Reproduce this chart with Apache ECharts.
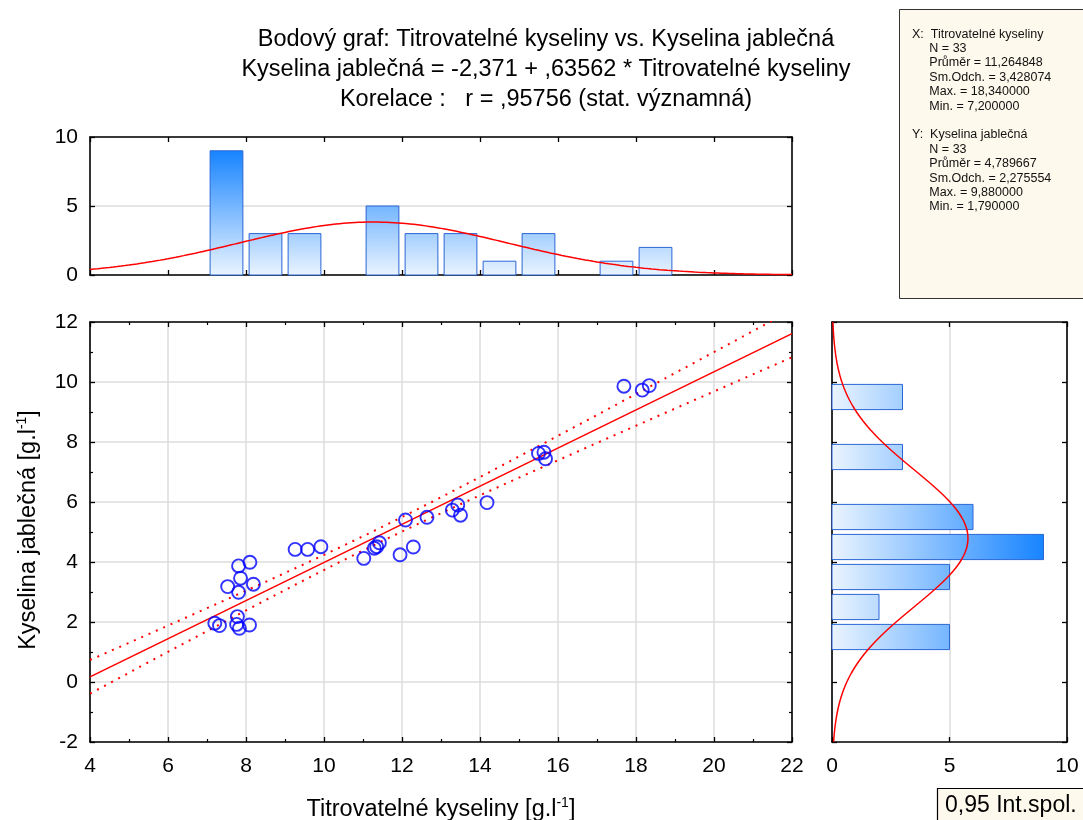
<!DOCTYPE html>
<html>
<head>
<meta charset="utf-8">
<script src="https://cdn.jsdelivr.net/npm/echarts@6/dist/echarts.min.js"></script>
<style>
  html, body { margin: 0; padding: 0; background: #fff; }
  #chart { width: 1083px; height: 820px; }
</style>
</head>
<body>
<div id="chart"></div>
<script>
// Titratable acids (x) and malic acid (y), g/l, 33 samples
const titrX = [7.20, 7.32, 7.78, 7.76, 7.83, 8.09, 7.81, 8.10, 7.86, 7.53, 8.19, 7.81,
               9.26, 9.58, 9.92, 11.02, 11.29, 11.42, 11.35, 11.95, 12.29, 12.09, 12.64,
               13.29, 13.43, 13.50, 14.18, 15.50, 15.64, 15.68, 17.69, 18.16, 18.34];
const malicY = [1.96, 1.88, 2.18, 1.92, 1.79, 1.90, 3.87, 3.99, 3.46, 3.18, 3.26, 2.99,
                4.42, 4.42, 4.51, 4.12, 4.46, 4.64, 4.51, 4.24, 4.50, 5.40, 5.49,
                5.73, 5.90, 5.56, 5.98, 7.62, 7.66, 7.44, 9.86, 9.73, 9.88];

// Histogram bins (lower edges, width 1) and frequencies
const histXBins   = [7, 8, 9, 10, 11, 12, 13, 14, 15, 16, 17, 18];
const histXCounts = [9, 3, 3, 0, 5, 3, 3, 1, 3, 0, 1, 2];
const histYBins   = [1, 2, 3, 4, 5, 6, 7, 8, 9];
const histYCounts = [5, 2, 5, 9, 6, 0, 3, 0, 3];

// Descriptive statistics
const nObs = 33;
const meanX = 11.264848, sdX = 3.428074, maxX = 18.34, minX = 7.2;
const meanY = 4.789667, sdY = 2.275554, maxY = 9.88, minY = 1.79;

// Regression y = a + b*x, correlation and t quantile (0.975, n-2)
const intercept = -2.371, slope = 0.63562, corrR = 0.95756;
const tCrit = 2.0395;

// Axis ranges
const xRange = [4, 22];
const yRange = [-2, 12];

const FONT = '"Liberation Sans", Arial, Helvetica, sans-serif';
const BLACK = '#000';
const GRIDLINE = '#dcdcdc';

// --- derived curves ---
function normalCounts(v, mean, sd) {
  return nObs * 1 * Math.exp(-0.5 * ((v - mean) / sd) ** 2) / (sd * Math.sqrt(2 * Math.PI));
}
const curveTop = [];
for (let v = xRange[0]; v <= xRange[1] + 1e-9; v += 0.1) curveTop.push([v, normalCounts(v, meanX, sdX)]);
const curveRight = [];
for (let v = yRange[0]; v <= yRange[1] + 1e-9; v += 0.05) curveRight.push([normalCounts(v, meanY, sdY), v]);

const sRes = sdY * Math.sqrt((1 - corrR * corrR) * (nObs - 1) / (nObs - 2));
const sxx = (nObs - 1) * sdX * sdX;
const fitLine = [], bandUp = [], bandLo = [];
for (let v = xRange[0]; v <= xRange[1] + 1e-9; v += 0.1) {
  const yh = intercept + slope * v;
  const h = tCrit * sRes * Math.sqrt(1 / nObs + (v - meanX) ** 2 / sxx);
  bandUp.push([v, yh + h]);
  bandLo.push([v, yh - h]);
}
fitLine.push([xRange[0], intercept + slope * xRange[0]], [xRange[1], intercept + slope * xRange[1]]);

const scatterData = titrX.map((x, i) => [x, malicY[i]]);
const topBars = histXBins.map((b, i) => [b, histXCounts[i]]).filter(d => d[1] > 0);
const rightBars = histYBins.map((b, i) => [b, histYCounts[i]]).filter(d => d[1] > 0);
const maxTop = Math.max(...histXCounts);
const maxRight = Math.max(...histYCounts);

const BAR_LIGHT = '#eaf4ff', BAR_DARK = '#1784ff', BAR_EDGE = '#2a66d6';

const fmt6 = v => v.toFixed(6).replace('.', ',');

// --- axes helpers ---
function frameAxis(extra) {
  return Object.assign({
    type: 'value',
    axisLine: { show: true, onZero: false, lineStyle: { color: BLACK, width: 1.6 } },
    axisTick: { show: true, inside: true, length: 5, lineStyle: { color: BLACK, width: 1.3 } },
    axisLabel: { show: false },
    splitLine: { show: false }
  }, extra);
}
const labelStyle = { show: true, color: BLACK, fontSize: 21, fontFamily: FONT };
const minorT = { show: true, splitNumber: 2, length: 3, lineStyle: { color: BLACK, width: 1.2 } };

const chart = echarts.init(document.getElementById('chart'), null, { renderer: 'canvas' });

const richName = {
  a: { fontSize: 23.5, fontFamily: FONT, fill: BLACK, lineHeight: 26, verticalAlign: 'bottom' },
  s: { fontSize: 14, fontFamily: FONT, fill: BLACK, lineHeight: 14, verticalAlign: 'top' }
};

const option = {
  animation: false,
  backgroundColor: '#fff',
  grid: [
    { left: 90, top: 137, width: 702, height: 138 },
    { left: 90, top: 322, width: 702, height: 420 },
    { left: 832, top: 322, width: 235, height: 420 }
  ],
  xAxis: [
    frameAxis({ gridIndex: 0, position: 'bottom', min: xRange[0], max: xRange[1], interval: 2 }),
    frameAxis({ gridIndex: 0, position: 'top', min: xRange[0], max: xRange[1], interval: 2 }),
    frameAxis({ gridIndex: 1, position: 'bottom', min: xRange[0], max: xRange[1], interval: 2,
      axisLabel: Object.assign({ margin: 14 }, labelStyle), minorTick: minorT,
      splitLine: { show: true, lineStyle: { color: GRIDLINE, width: 1.5 } } }),
    frameAxis({ gridIndex: 1, position: 'top', min: xRange[0], max: xRange[1], interval: 2, minorTick: minorT }),
    frameAxis({ gridIndex: 2, position: 'bottom', min: 0, max: 10, interval: 5,
      axisLabel: Object.assign({ margin: 14 }, labelStyle),
      splitLine: { show: true, lineStyle: { color: GRIDLINE, width: 1.5 } } }),
    frameAxis({ gridIndex: 2, position: 'top', min: 0, max: 10, interval: 5 })
  ],
  yAxis: [
    frameAxis({ gridIndex: 0, position: 'left', min: 0, max: 10, interval: 5,
      axisLabel: Object.assign({ margin: 12 }, labelStyle),
      splitLine: { show: true, lineStyle: { color: GRIDLINE, width: 1.5 } } }),
    frameAxis({ gridIndex: 0, position: 'right', min: 0, max: 10, interval: 5 }),
    frameAxis({ gridIndex: 1, position: 'left', min: yRange[0], max: yRange[1], interval: 2,
      axisLabel: Object.assign({ margin: 12 }, labelStyle), minorTick: minorT,
      splitLine: { show: true, lineStyle: { color: GRIDLINE, width: 1.5 } } }),
    frameAxis({ gridIndex: 1, position: 'right', min: yRange[0], max: yRange[1], interval: 2, minorTick: minorT }),
    frameAxis({ gridIndex: 2, position: 'left', min: yRange[0], max: yRange[1], interval: 2 }),
    frameAxis({ gridIndex: 2, position: 'right', min: yRange[0], max: yRange[1], interval: 2 })
  ],
  series: [
    {
      name: 'histX', type: 'custom', xAxisIndex: 0, yAxisIndex: 0, data: topBars, z: 2,
      renderItem: function (params, api) {
        const b = api.value(0), c = api.value(1);
        const p0 = api.coord([b + 0.08, 0]);
        const p1 = api.coord([b + 0.92, c]);
        const g0 = api.coord([b, 0])[1], g1 = api.coord([b, maxTop])[1];
        return {
          type: 'rect',
          shape: { x: p0[0], y: p1[1], width: p1[0] - p0[0], height: p0[1] - p1[1] },
          style: {
            fill: new echarts.graphic.LinearGradient(0, g0, 0, g1,
              [{ offset: 0, color: BAR_LIGHT }, { offset: 1, color: BAR_DARK }], true),
            stroke: BAR_EDGE, lineWidth: 1
          }
        };
      }
    },
    {
      name: 'normX', type: 'line', xAxisIndex: 0, yAxisIndex: 0, data: curveTop, z: 3,
      showSymbol: false, lineStyle: { color: '#ff0000', width: 1.5 }
    },
    {
      name: 'histY', type: 'custom', xAxisIndex: 4, yAxisIndex: 4, data: rightBars, z: 2,
      renderItem: function (params, api) {
        const b = api.value(0), c = api.value(1);
        const p0 = api.coord([0, b + 0.92]);
        const p1 = api.coord([c, b + 0.08]);
        const g0 = api.coord([0, b])[0], g1 = api.coord([maxRight, b])[0];
        return {
          type: 'rect',
          shape: { x: p0[0], y: p0[1], width: p1[0] - p0[0], height: p1[1] - p0[1] },
          style: {
            fill: new echarts.graphic.LinearGradient(g0, 0, g1, 0,
              [{ offset: 0, color: BAR_LIGHT }, { offset: 1, color: BAR_DARK }], true),
            stroke: BAR_EDGE, lineWidth: 1
          }
        };
      }
    },
    {
      name: 'normY', type: 'line', xAxisIndex: 4, yAxisIndex: 4, data: curveRight, z: 3,
      showSymbol: false, lineStyle: { color: '#ff0000', width: 1.5 }
    },
    {
      name: 'bandUp', type: 'line', xAxisIndex: 2, yAxisIndex: 2, data: bandUp, showSymbol: false,
      lineStyle: { color: '#ff0000', width: 2, type: [2, 6] }
    },
    {
      name: 'bandLo', type: 'line', xAxisIndex: 2, yAxisIndex: 2, data: bandLo, showSymbol: false,
      lineStyle: { color: '#ff0000', width: 2, type: [2, 6] }
    },
    {
      name: 'fit', type: 'line', xAxisIndex: 2, yAxisIndex: 2, data: fitLine, showSymbol: false,
      lineStyle: { color: '#ff0000', width: 1.6 }
    },
    {
      name: 'points', type: 'scatter', xAxisIndex: 2, yAxisIndex: 2, data: scatterData, z: 4,
      symbol: 'circle', symbolSize: 13,
      itemStyle: { color: 'rgba(0,0,0,0)', borderColor: '#0000ff', borderWidth: 1.9 }
    }
  ],
  graphic: [
    {
      type: 'text', x: 546, y: 40,
      style: { text: 'Bodový graf: Titrovatelné kyseliny vs. Kyselina jablečná', font: '23.5px ' + FONT, fill: BLACK, align: 'center', verticalAlign: 'middle' }
    },
    {
      type: 'text', x: 546, y: 70,
      style: { text: 'Kyselina jablečná = ' + intercept.toFixed(3).replace('.', ',') + ' + ,' + String(slope).split('.')[1] + ' * Titrovatelné kyseliny', font: '23.5px ' + FONT, fill: BLACK, align: 'center', verticalAlign: 'middle' }
    },
    {
      type: 'text', x: 546, y: 100,
      style: { text: 'Korelace :   r = ,' + String(corrR).split('.')[1] + ' (stat. významná)', font: '23.5px ' + FONT, fill: BLACK, align: 'center', verticalAlign: 'middle' }
    },
    {
      type: 'rect', shape: { x: 899.5, y: 9.5, width: 200, height: 289 },
      style: { fill: '#fdf9ec', stroke: '#333', lineWidth: 1 }
    },
    {
      type: 'text', x: 912, y: 27,
      style: {
        text: [
          'X:  Titrovatelné kyseliny',
          '     N = ' + nObs,
          '     Průměr = ' + fmt6(meanX),
          '     Sm.Odch. = ' + fmt6(sdX),
          '     Max. = ' + fmt6(maxX),
          '     Min. = ' + fmt6(minX),
          '',
          'Y:  Kyselina jablečná',
          '     N = ' + nObs,
          '     Průměr = ' + fmt6(meanY),
          '     Sm.Odch. = ' + fmt6(sdY),
          '     Max. = ' + fmt6(maxY),
          '     Min. = ' + fmt6(minY)
        ].join('\n'),
        font: '12.5px ' + FONT, lineHeight: 14.4, fill: '#111', align: 'left', verticalAlign: 'top'
      }
    },
    {
      type: 'rect', shape: { x: 937.5, y: 788.5, width: 160, height: 40 },
      style: { fill: '#fdf9ec', stroke: '#000', lineWidth: 1.2 }
    },
    {
      type: 'text', x: 945, y: 806,
      style: { text: '0,95 Int.spol.', font: '23px ' + FONT, fill: BLACK, align: 'left', verticalAlign: 'middle' }
    },
    {
      type: 'text', x: 441, y: 809,
      style: {
        text: '{a|Titrovatelné kyseliny [g.l}{s|-1}{a|]}',
        align: 'center', verticalAlign: 'middle', rich: richName
      }
    },
    {
      type: 'text', x: 28, y: 530, rotation: Math.PI / 2,
      style: {
        text: '{a|Kyselina jablečná [g.l}{s|-1}{a|]}',
        align: 'center', verticalAlign: 'middle', rich: richName
      }
    }
  ]
};

chart.setOption(option);
</script>
</body>
</html>
